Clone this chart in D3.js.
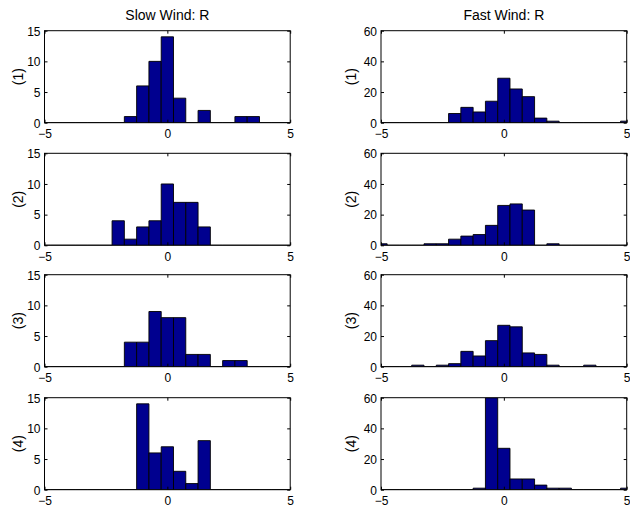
<!DOCTYPE html>
<html>
<head>
<meta charset="utf-8">
<script src="https://cdn.jsdelivr.net/npm/d3@7"></script>
<style>
html,body{margin:0;padding:0;background:#fff;}
svg{display:block;}
text{font-family:"Liberation Sans",Arial,Helvetica,sans-serif;fill:#000;}
</style>
</head>
<body>
<svg id="chart" width="630" height="511"></svg>
<script>
// Bin centres used by the histograms
const binCenters = [-5,-4.5,-4,-3.5,-3,-2.5,-2,-1.5,-1,-0.5,0,0.5,1,1.5,2,2.5,3,3.5,4,4.5,5];
const binWidth = 0.5;

// Column titles and row labels
const columnTitles = ["Slow Wind: R", "Fast Wind: R"];
const rowLabels = ["(1)", "(2)", "(3)", "(4)"];

// Counts per bin
const slow1 = [0,0,0,0,0,0,0,1,6,10,14,4,0,2,0,0,1,1,0,0,0];
const slow2 = [0,0,0,0,0,0,4,1,3,4,10,7,7,3,0,0,0,0,0,0,0];
const slow3 = [0,0,0,0,0,0,0,4,4,9,8,8,2,2,0,1,1,0,0,0,0];
const slow4 = [0,0,0,0,0,0,0,0,14,6,7,3,1,8,0,0,0,0,0,0,0];
const fast1 = [0,0,0,0,0,0,6,10,7,14,29,22,17,3,1,0,0,0,0,0,1];
const fast2 = [1,0,0,0,1,1,4,6,7,13,26,27,23,0,1,0,0,0,0,0,0];
const fast3 = [0,0,0,1,0,1,2,10,7,17,27,26,9,8,1,0,0,1,0,0,0];
const fast4 = [0,0,0,0,0,0,0,0,1,60,27,7,7,3,1,1,0,0,0,0,1];

// Axis ranges and ticks
const xDomain = [-5, 5];
const xTicks = [-5, 0, 5];
const slowYDomain = [0, 15];
const slowYTicks = [0, 5, 10, 15];
const fastYDomain = [0, 60];
const fastYTicks = [0, 20, 40, 60];

const slowSeries = [slow1, slow2, slow3, slow4];
const fastSeries = [fast1, fast2, fast3, fast4];

// Layout
const colLeft = [44.5, 381];
const colWidth = 245.7;
const rowTop = [30.7, 153.3, 274.7, 397.7];
const rowHeight = 92;
const ylabelOffset = [26, 30];
const tickLen = 3;

const svg = d3.select("#chart");
const defs = svg.append("defs");

const panels = [];
for (let r = 0; r < 4; r++) {
  panels.push({col: 0, row: r, data: slowSeries[r], yDomain: slowYDomain, yTicks: slowYTicks});
  panels.push({col: 1, row: r, data: fastSeries[r], yDomain: fastYDomain, yTicks: fastYTicks});
}

panels.forEach((p, i) => {
  const x0 = colLeft[p.col], y0 = rowTop[p.row];
  const w = colWidth, h = rowHeight;
  const x = d3.scaleLinear().domain(xDomain).range([0, w]);
  const y = d3.scaleLinear().domain(p.yDomain).range([h, 0]);
  const g = svg.append("g").attr("transform", `translate(${x0},${y0})`);

  const clipId = "clip" + i;
  defs.append("clipPath").attr("id", clipId)
    .append("rect").attr("x", 0).attr("y", 0).attr("width", w).attr("height", h);

  const bins = binCenters.map((c, k) => ({c, v: p.data[k]}));
  g.append("g").attr("clip-path", `url(#${clipId})`)
    .selectAll("path").data(bins).join("path")
    .attr("d", d => {
      const xa = x(d.c - binWidth / 2), xb = x(d.c + binWidth / 2);
      const yb = y(0), yt = y(d.v);
      return `M${xa},${yb}V${yt}H${xb}V${yb}Z`;
    })
    .attr("fill", "#00008f")
    .attr("stroke", "#000")
    .attr("stroke-width", 0.9);

  // Box
  g.append("rect").attr("x", 0).attr("y", 0).attr("width", w).attr("height", h)
    .attr("fill", "none").attr("stroke", "#000").attr("stroke-width", 1);

  // Ticks inside (all four sides)
  const axB = d3.axisBottom(x).tickValues(xTicks).tickSize(tickLen).tickFormat(d => d < 0 ? "\u2212" + Math.abs(d) : d);
  const gxb = g.append("g").attr("transform", `translate(0,${h})`).call(axB);
  gxb.select(".domain").remove();
  gxb.selectAll(".tick line").attr("y2", -tickLen).attr("stroke", "#000");
  gxb.selectAll(".tick text").attr("y", 15.7).attr("dy", null)
    .attr("font-size", 12).attr("fill", "#000");

  const gxt = g.append("g").call(d3.axisTop(x).tickValues(xTicks).tickSize(tickLen).tickFormat(""));
  gxt.select(".domain").remove();
  gxt.selectAll(".tick line").attr("y2", tickLen).attr("stroke", "#000");

  const axL = d3.axisLeft(y).tickValues(p.yTicks).tickSize(tickLen);
  const gyl = g.append("g").call(axL);
  gyl.select(".domain").remove();
  gyl.selectAll(".tick line").attr("x2", tickLen).attr("stroke", "#000");
  gyl.selectAll(".tick text").attr("x", -4).attr("dy", "0.36em")
    .attr("font-size", 12).attr("fill", "#000");

  const gyr = g.append("g").attr("transform", `translate(${w},0)`)
    .call(d3.axisRight(y).tickValues(p.yTicks).tickSize(tickLen).tickFormat(""));
  gyr.select(".domain").remove();
  gyr.selectAll(".tick line").attr("x2", -tickLen).attr("stroke", "#000");

  g.selectAll(".tick text").attr("font-family", null);
  g.selectAll("g").attr("font-family", null);

  // Row label
  g.append("text")
    .attr("transform", `translate(${-ylabelOffset[p.col]},${h / 2}) rotate(-90)`)
    .attr("text-anchor", "middle").attr("dy", "0.35em")
    .attr("font-size", 14)
    .text(rowLabels[p.row]);

  // Column title
  if (p.row === 0) {
    g.append("text").attr("x", w / 2).attr("y", -10.7)
      .attr("text-anchor", "middle").attr("font-size", 14)
      .text(columnTitles[p.col]);
  }
});
</script>
</body>
</html>
